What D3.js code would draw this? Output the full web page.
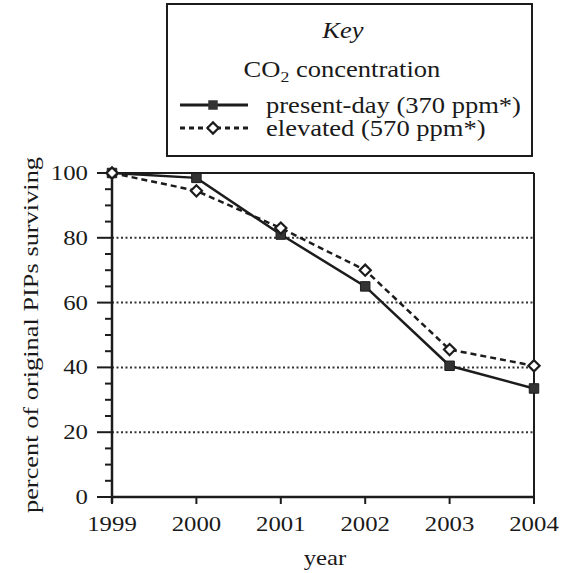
<!DOCTYPE html>
<html><head><meta charset="utf-8">
<script src="https://cdn.jsdelivr.net/npm/d3@7"></script>
<style>
html,body{margin:0;padding:0;background:#fff;}
svg text{font-family:"Liberation Serif","DejaVu Serif",serif;fill:#1a1a1a;}
</style></head>
<body><svg id="c" width="575" height="573"></svg>
<script>
const years = [1999, 2000, 2001, 2002, 2003, 2004];
const presentDay = [100, 98.5, 81, 65, 40.5, 33.5];
const elevated = [100, 94.5, 83, 70, 45.5, 40.5];
const yTicks = [0, 20, 40, 60, 80, 100];
const gridValues = [20, 40, 60, 80];
const legendLabels = ["present-day (370 ppm*)", "elevated (570 ppm*)"];

const svg = d3.select("#c");
const ink = "#1c1c1c";
const SX = 1.18;
const x = d3.scaleLinear().domain([1999, 2004]).range([112, 534]);
const y = d3.scaleLinear().domain([0, 100]).range([497, 173]);

function txt(g, s, px, py, anchor, size, style, sx) {
  const t = g.append("text").attr("transform", `translate(${px},${py}) scale(${sx || SX},1)`)
    .attr("text-anchor", anchor).attr("font-size", size).text(s);
  if (style) t.attr("font-style", style);
  return t;
}

// grid
svg.append("g").selectAll("line").data(gridValues).join("line")
  .attr("x1", x(1999)).attr("x2", x(2004)).attr("y1", d => y(d)).attr("y2", d => y(d))
  .attr("stroke", "#333").attr("stroke-width", 2).attr("stroke-dasharray", "2,2.5");

// frame top/right
svg.append("line").attr("x1", x(1999)).attr("x2", x(2004)).attr("y1", y(100)).attr("y2", y(100)).attr("stroke", ink).attr("stroke-width", 2);
svg.append("line").attr("x1", x(2004)).attr("x2", x(2004)).attr("y1", y(100)).attr("y2", y(0) + 6).attr("stroke", ink).attr("stroke-width", 2);

// y axis
const yAxisG = svg.append("g").attr("transform", `translate(${x(1999)},0)`);
yAxisG.append("line").attr("y1", y(100)).attr("y2", y(0) + 6).attr("stroke", ink).attr("stroke-width", 2.5);
const minor = d3.range(5, 100, 5).filter(v => v % 20 !== 0);
yAxisG.selectAll("line.mn").data(minor).join("line").attr("class", "mn")
  .attr("x1", -7).attr("x2", 0).attr("y1", d => y(d)).attr("y2", d => y(d)).attr("stroke", ink).attr("stroke-width", 2);
yAxisG.selectAll("line.mj").data(yTicks).join("line").attr("class", "mj")
  .attr("x1", -15).attr("x2", 0).attr("y1", d => y(d)).attr("y2", d => y(d)).attr("stroke", ink).attr("stroke-width", 2);
yTicks.forEach(v => txt(svg, String(v), x(1999) - 24, y(v) + 7, "end", 21));

// x axis
svg.append("line").attr("x1", x(1999)).attr("x2", x(2004)).attr("y1", y(0)).attr("y2", y(0)).attr("stroke", ink).attr("stroke-width", 2.5);
svg.selectAll("line.xt").data(years).join("line").attr("class", "xt")
  .attr("x1", d => x(d)).attr("x2", d => x(d)).attr("y1", y(0)).attr("y2", y(0) + 7).attr("stroke", ink).attr("stroke-width", 2);
years.forEach(v => txt(svg, String(v), x(v), 531, "middle", 21));
txt(svg, "year", 325, 565, "middle", 21);

// y label
svg.append("text").attr("transform", `translate(38,335) rotate(-90) scale(1.2,1)`)
  .attr("text-anchor", "middle").attr("font-size", 22).text("percent of original PIPs surviving");

// series
const line = d3.line().x((d, i) => x(years[i])).y(d => y(d));
svg.append("path").datum(presentDay).attr("d", line).attr("fill", "none").attr("stroke", ink).attr("stroke-width", 2.5);
svg.append("path").datum(elevated).attr("d", line).attr("fill", "none").attr("stroke", ink).attr("stroke-width", 2.5).attr("stroke-dasharray", "6,4");
const sq = d3.symbol().type(d3.symbolSquare).size(90);
const dm = d3.symbol().type(d3.symbolDiamond2).size(80);
svg.selectAll("path.sq").data(presentDay).join("path").attr("class", "sq")
  .attr("d", sq).attr("transform", (d, i) => `translate(${x(years[i])},${y(d)})`).attr("fill", "#333").attr("stroke", ink).attr("stroke-width", 1);
svg.selectAll("path.dm").data(elevated).join("path").attr("class", "dm")
  .attr("d", dm).attr("transform", (d, i) => `translate(${x(years[i])},${y(d)})`).attr("fill", "#fff").attr("stroke", ink).attr("stroke-width", 2.2);

// legend
const lg = svg.append("g");
lg.append("rect").attr("x", 167).attr("y", 4).attr("width", 365).attr("height", 152)
  .attr("fill", "#fff").attr("stroke", ink).attr("stroke-width", 2);
txt(lg, "Key", 343, 38, "middle", 22.5, "italic");
const co = lg.append("text").attr("transform", `translate(342,77) scale(${SX},1)`).attr("text-anchor", "middle").attr("font-size", 22.5);
co.append("tspan").text("CO");
co.append("tspan").attr("font-size", 15).attr("dy", 5).text("2");
co.append("tspan").attr("dy", -5).text(" concentration");
const rows = [105, 128];
lg.append("line").attr("x1", 180).attr("x2", 248).attr("y1", rows[0]).attr("y2", rows[0]).attr("stroke", ink).attr("stroke-width", 3);
lg.append("path").attr("d", sq).attr("transform", `translate(213,${rows[0]})`).attr("fill", "#333");
lg.append("line").attr("x1", 180).attr("x2", 248).attr("y1", rows[1]).attr("y2", rows[1]).attr("stroke", ink).attr("stroke-width", 3).attr("stroke-dasharray", "5,4");
lg.append("path").attr("d", dm).attr("transform", `translate(213,${rows[1]})`).attr("fill", "#fff").attr("stroke", ink).attr("stroke-width", 2.2);
legendLabels.forEach((s, i) => txt(lg, s, 266, rows[i] + 8, "start", 22.5));
</script></body></html>
